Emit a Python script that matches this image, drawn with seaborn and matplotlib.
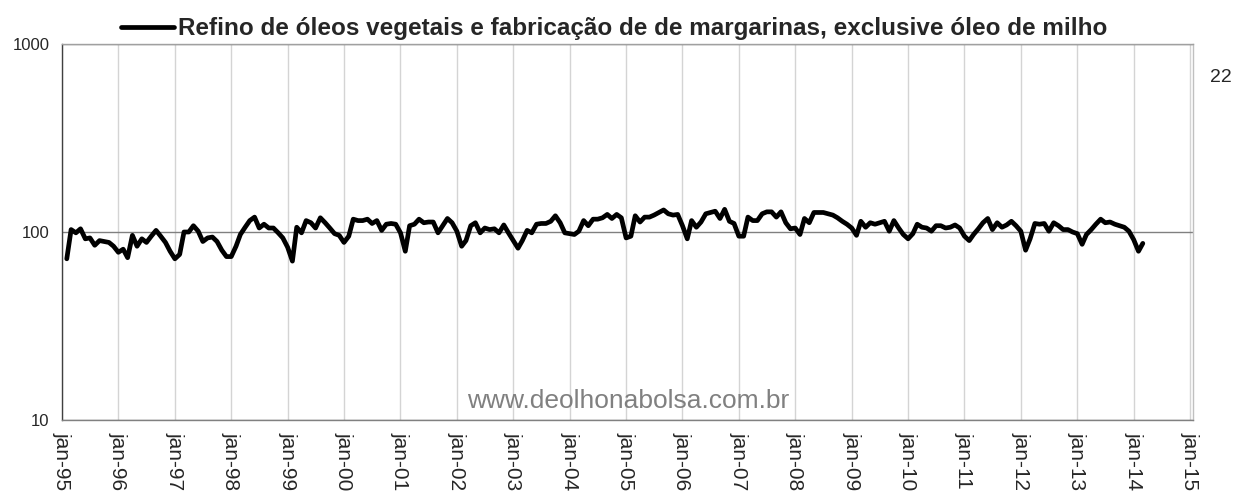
import matplotlib
matplotlib.use("Agg")
import matplotlib.pyplot as plt
import matplotlib.ticker as mticker
import pandas as pd
import seaborn as sns

# monthly index, feb-95 .. mar-14
start_month = "1995-02-01"
values = [
    72, 103, 99, 104, 92, 93, 85, 90, 89, 88, 84,
    78, 81, 73, 96, 84, 92, 88, 95, 102, 95, 88, 79,
    72, 76, 100, 100, 108, 101, 89, 93, 94, 89, 80, 74,
    74, 84, 97, 106, 115, 120, 105, 110, 105, 105, 99, 93,
    83, 70, 106, 99, 115, 112, 105, 119, 112, 105, 98, 96,
    88, 95, 117, 115, 115, 117, 111, 115, 102, 110, 111, 110,
    99, 79, 108, 110, 117, 112, 113, 113, 99, 108, 118, 112,
    101, 84, 90, 108, 112, 99, 105, 103, 104, 99, 109, 99,
    90, 82, 90, 102, 99, 110, 111, 111, 114, 122, 112, 99,
    98, 97, 101, 115, 108, 117, 117, 119, 124, 118, 124, 119,
    93, 95, 122, 113, 120, 120, 123, 127, 131, 125, 123, 124,
    108, 92, 115, 106, 113, 125, 127, 129, 118, 132, 114, 111,
    95, 95, 120, 115, 115, 125, 128, 128, 120, 128, 112, 104,
    105, 97, 118, 112, 127, 127, 127, 125, 123, 119, 114, 110,
    105, 96, 114, 106, 112, 110, 112, 114, 101, 115, 105, 97,
    92, 98, 110, 106, 105, 101, 108, 108, 105, 106, 109, 105,
    95, 90, 97, 104, 112, 118, 103, 112, 106, 109, 114, 108,
    101, 80, 92, 111, 110, 111, 101, 112, 108, 103, 103, 100,
    98, 86, 97, 103, 110, 117, 112, 113, 110, 108, 106, 101,
    91, 79, 87,
]
year_labels = ["jan-%02d" % (y % 100) for y in range(1995, 2016)]
y_ticks = [10, 100, 1000]
y_labels = ["10", "100", "1000"]
series_name = "Refino de óleos vegetais e fabricação de de margarinas, exclusive óleo de milho"

dates = pd.date_range(start_month, periods=len(values), freq="MS")
df = pd.DataFrame({"data": dates, "indice": values})

sns.set_theme(style="white")
plt.rcParams["font.family"] = ["Liberation Sans", "DejaVu Sans"]

W, H = 1234, 497
fig = plt.figure(figsize=(W / 100, H / 100), dpi=100)
ax = fig.add_axes([62 / W, 1 - 420 / H, (1193 - 62) / W, (420 - 44) / H])

sns.lineplot(data=df, x="data", y="indice", color="black", lw=3.4, ax=ax, label=series_name)

ax.set_yscale("log")
ax.set_ylim(10, 1000)
ax.yaxis.set_major_locator(mticker.FixedLocator(y_ticks))
ax.yaxis.set_major_formatter(mticker.FixedFormatter(y_labels))
ax.yaxis.set_minor_locator(mticker.NullLocator())

ax.set_xlim(pd.Timestamp("1995-01-01"), pd.Timestamp("2015-01-20"))
tick_dates = pd.date_range("1995-01-01", periods=len(year_labels), freq="YS")
ax.set_xticks(tick_dates)
ax.set_xticklabels(year_labels, rotation=270, fontsize=15, ha="center", va="top")
ax.xaxis.set_minor_locator(mticker.NullLocator())

ax.set_xlabel("")
ax.set_ylabel("")
ax.set_axisbelow(True)
ax.grid(axis="y", color="#808080", lw=1)
ax.grid(axis="x", color="#d4d4d4", lw=1)

ax.spines["left"].set_color("#404040")
ax.spines["bottom"].set_color("#808080")
ax.spines["top"].set_color("#a0a0a0")
ax.spines["right"].set_color("#c0c0c0")
for s in ax.spines.values():
    s.set_linewidth(1)

ax.tick_params(axis="y", direction="out", length=6, width=1, color="#606060", labelsize=12, pad=3)
ax.tick_params(axis="x", length=0, pad=9)

ax.legend(loc="lower center", bbox_to_anchor=(0.488, 1.0), frameon=False,
          prop={"weight": "bold", "size": 17.5}, handlelength=2.2,
          handletextpad=0.15, borderaxespad=0.0, borderpad=0.15)

fig.text(1210 / W, 1 - 78 / H, "22", fontsize=14, ha="left", va="center")
fig.text(628 / W, 1 - 401 / H, "www.deolhonabolsa.com.br", fontsize=19,
         color="#808080", ha="center", va="center")

fig.savefig("out.png", dpi=100)
plt.close(fig)
